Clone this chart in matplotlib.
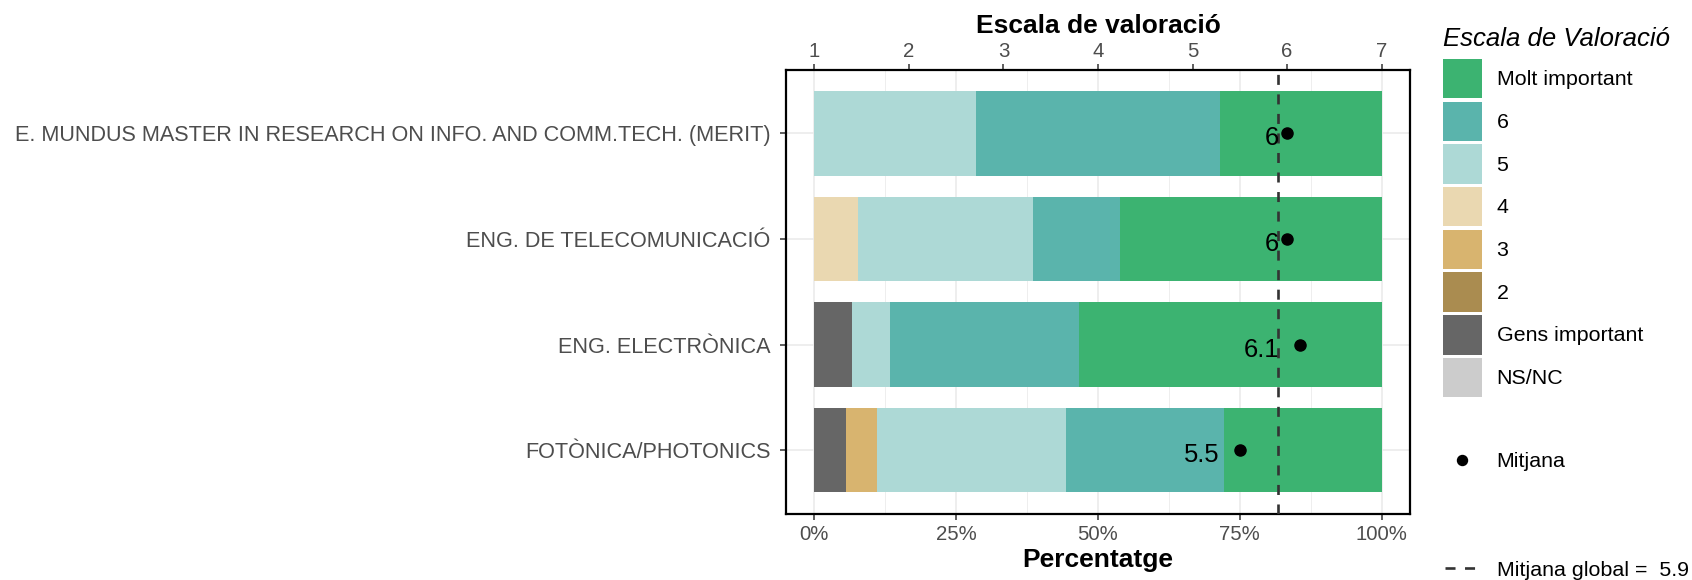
import numpy as np
import matplotlib
matplotlib.use("Agg")
import matplotlib.pyplot as plt
from matplotlib.patches import Patch
from matplotlib.lines import Line2D
from matplotlib.ticker import FixedLocator, PercentFormatter

plt.rcParams['font.family'] = ['Liberation Sans', 'DejaVu Sans']

# categories, top to bottom
estudis = ["E. MUNDUS MASTER IN RESEARCH ON INFO. AND COMM.TECH. (MERIT)",
           "ENG. DE TELECOMUNICACIÓ",
           "ENG. ELECTRÒNICA",
           "FOTÒNICA/PHOTONICS"]

# answer levels, in stacking order (left to right)
nivells = ["NS/NC", "Gens important", "2", "3", "4", "5", "6", "Molt important"]
valors = [0, 1, 2, 3, 4, 5, 6, 7]
colors = ["#CCCCCC", "#666666", "#AA8C50", "#D8B46F", "#EAD8B1", "#ADD9D6", "#5AB4AC", "#3CB371"]

# number of answers per level for each study
respostes = [
    [0, 0, 0, 0, 0, 2, 3, 2],
    [0, 0, 0, 0, 1, 4, 2, 6],
    [0, 1, 0, 0, 0, 1, 5, 8],
    [0, 1, 0, 1, 0, 6, 5, 5],
]

# legend order
ordre_llegenda = ["Molt important", "6", "5", "4", "3", "2", "Gens important", "NS/NC"]

counts = np.array(respostes, dtype=float)
pct = counts / counts.sum(axis=1, keepdims=True)
escala = np.array(valors, dtype=float)
valid = counts[:, 1:]  # NS/NC does not count for the mean
mitjanes = (valid * escala[1:]).sum(axis=1) / valid.sum(axis=1)
mitjana_global = mitjanes.mean()


def to_pct(v):
    return (v - 1) / 6.0


def to_scale(p):
    return p * 6.0 + 1


W, H = 1692, 580
fig = plt.figure(figsize=(W / 100, H / 100), dpi=100)
ax = fig.add_axes([786 / W, 1 - 513.5 / H, (1410 - 786) / W, (513.5 - 70) / H])

y = np.arange(1, len(estudis) + 1)
left = np.zeros(len(estudis))
for j in range(len(nivells)):
    ax.barh(y, pct[:, j], left=left, height=0.8, color=colors[j], zorder=2)
    left += pct[:, j]

ax.axvline(to_pct(mitjana_global), color="#333333", lw=1.9, dashes=(3.8, 3.6), zorder=3)
ax.plot(to_pct(mitjanes), y, 'o', color='black', ms=8, zorder=4)

labels = []
for yi, m in zip(y, mitjanes):
    txt = f"{m:.1f}".rstrip('0').rstrip('.')
    t = ax.annotate(txt, (to_pct(m), yi), xytext=(0, -12), textcoords='offset pixels',
                    ha='right', va='baseline', fontsize=18.4, color='black', zorder=5)
    labels.append(t)

ax.set_xlim(-0.05, 1.05)
ax.set_ylim(len(estudis) + 0.6, 0.4)
ax.set_yticks(y)
ax.set_yticklabels(estudis)
ax.xaxis.set_major_locator(FixedLocator([0, 0.25, 0.5, 0.75, 1.0]))
ax.xaxis.set_minor_locator(FixedLocator([0.125, 0.375, 0.625, 0.875]))
ax.xaxis.set_major_formatter(PercentFormatter(1.0, decimals=0))

ax.grid(True, which='major', color="#EBEBEB", lw=1.2, zorder=0)
ax.grid(True, which='minor', axis='x', color="#EBEBEB", lw=0.6, zorder=0)
ax.set_axisbelow(True)
for s in ax.spines.values():
    s.set_color('black')
    s.set_linewidth(1.6)

ax.tick_params(axis='both', which='major', labelsize=14.7, labelcolor="#4D4D4D",
               color="#333333", width=1.1, length=4.3)
ax.tick_params(axis='x', which='major', pad=4)
ax.tick_params(axis='y', which='major', pad=7, labelsize=15.6)
ax.tick_params(axis='x', which='minor', length=0)

secax = ax.secondary_xaxis('top', functions=(to_scale, to_pct))
secax.set_xticks(range(1, 8))
secax.tick_params(labelsize=14.7, labelcolor="#4D4D4D", color="#333333", width=1.1, length=4.3, pad=2.5)
secax.spines['top'].set_visible(False)
secax.set_xlabel("Escala de valoració", fontsize=19, fontweight='bold', labelpad=6)
ax.set_xlabel("Percentatge", fontsize=19, fontweight='bold', labelpad=3)

# legends
fs = 15.4
handles = [Patch(facecolor=colors[nivells.index(l)]) for l in ordre_llegenda]
leg1 = fig.legend(handles, ordre_llegenda, loc='upper left', bbox_to_anchor=(1442.7 / W, 1 - 27 / H),
                  frameon=False, title="Escala de Valoració",
                  title_fontproperties={'style': 'italic', 'size': 18.5},
                  fontsize=fs, handlelength=1.85, handleheight=2.46, labelspacing=0.154,
                  handletextpad=0.67, borderpad=0, borderaxespad=0, alignment='left')
leg1._legend_box.sep = 5.6

leg2 = fig.legend([Line2D([], [], marker='o', color='black', ls='none', ms=7.2)], ["Mitjana"],
                  loc='center left', bbox_to_anchor=(1442.7 / W, 1 - 461.7 / H), frameon=False,
                  fontsize=fs, handlelength=1.85, handletextpad=0.67, borderpad=0, borderaxespad=0)

leg3 = fig.legend([Line2D([], [], color="#333333", lw=1.9, dashes=(3.8, 3.6))],
                  [f"Mitjana global =  {mitjana_global:.1f}"],
                  loc='center left', bbox_to_anchor=(1445 / W, 1 - 570 / H), frameon=False,
                  fontsize=fs, handlelength=1.5, handletextpad=0.92, borderpad=0, borderaxespad=0)

fig.canvas.draw()
for t in labels:
    w = t.get_window_extent().width
    t.xyann = (-0.57 * w, -12)

fig.savefig("out.png", dpi=100, facecolor='white')
